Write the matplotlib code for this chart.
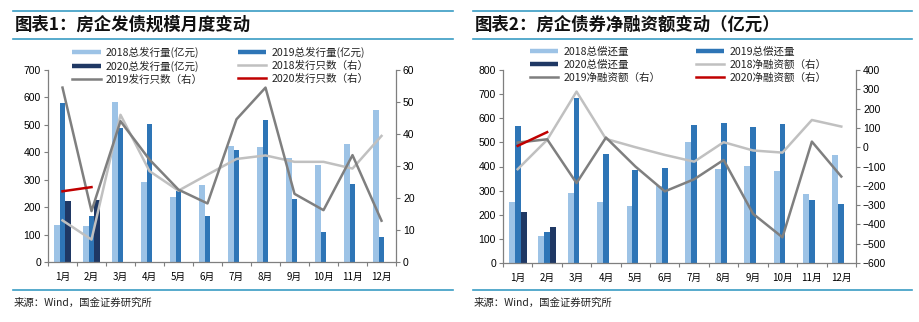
import numpy as np
import matplotlib
matplotlib.use('Agg')
import matplotlib.pyplot as plt
from matplotlib.lines import Line2D

plt.rcParams['font.family'] = ['Noto Sans CJK SC', 'DejaVu Sans']

months = ['1月', '2月', '3月', '4月', '5月', '6月', '7月', '8月', '9月', '10月', '11月', '12月']

# 图表1: 发行量(亿元, 左轴) / 发行只数(右轴)
issue_2018 = [136, 130, 583, 293, 236, 281, 424, 418, 380, 354, 430, 554]
issue_2019 = [578, 166, 488, 503, 258, 169, 409, 518, 229, 108, 286, 90]
issue_2020 = [222, 225]
count_2018 = [13, 7, 46, 28.4, 22.3, 27.3, 32.2, 33.3, 31.3, 31.3, 29.2, 39.4]
count_2019 = [54.5, 15.9, 44, 32, 22.6, 18.3, 44.6, 54.5, 21.3, 16.2, 33.4, 12.9]
count_2020 = [22.1, 23.4]

# 图表2: 总偿还量(左轴) / 净融资额(右轴)
repay_2018 = [252, 113, 291, 252, 237, 320, 500, 390, 404, 383, 288, 447]
repay_2019 = [566, 127, 683, 452, 386, 394, 574, 581, 563, 577, 263, 244]
repay_2020 = [212, 148]
net_2018 = [-114, 38, 288, 43, 0, -40, -75, 26, -17, -28, 141, 107]
net_2019 = [24, 41, -186, 50, -100, -229, -166, -66, -345, -467, 29, -152]
net_2020 = [7, 78]

C18, C19, C20 = '#9dc3e6', '#2e75b6', '#1f3864'
L18, L19, L20 = '#c0c0c0', '#7f7f7f', '#c00000'
RULE = '#3a9cc4'
NUM_FONT = 'Liberation Sans'

W, H = 920, 322
fig = plt.figure(figsize=(W / 100, H / 100), dpi=100)


def fx(px):
    return px / W


def fy(py):
    return 1 - py / H


def panel(x0, x1, y0, y1, bars, lines, ylim_l, ylim_r, step_l, step_r, labels, leg_x, col2_gap):
    ax = fig.add_axes([fx(x0), fy(y1), fx(x1 - x0), fy(y0) - fy(y1)])
    x = np.arange(len(months))
    w = 0.2
    offs = [-w, 0, w]
    for (vals, col), off in zip(bars, offs):
        ax.bar(x[:len(vals)] + off, vals, width=w, color=col, zorder=2)
    ax.set_xlim(-0.5, 11.5)
    ax.set_ylim(*ylim_l)
    ax.set_yticks(np.arange(ylim_l[0], ylim_l[1] + 1, step_l))
    ax2 = ax.twinx()
    for vals, col in lines:
        ax2.plot(x[:len(vals)], vals, color=col, lw=1.8, zorder=3)
    ax2.set_ylim(*ylim_r)
    ax2.set_yticks(np.arange(ylim_r[0], ylim_r[1] + 1, step_r))

    for a in (ax, ax2):
        a.spines['top'].set_visible(False)
        for s in a.spines.values():
            s.set_color('#7f7f7f')
            s.set_linewidth(0.9)
        a.tick_params(axis='y', direction='out', length=3, width=0.8, color='#7f7f7f',
                      labelsize=7.5, pad=2)
        for t in a.get_yticklabels():
            t.set_fontfamily(NUM_FONT)
    ax2.spines['left'].set_visible(False)
    ax.spines['right'].set_visible(False)
    ax2.spines['bottom'].set_visible(False)

    ax.set_xticks(x)
    ax.set_xticklabels(months, fontsize=7)
    ax.set_xticks(np.arange(-0.5, 12, 1), minor=True)
    ax.tick_params(axis='x', which='major', length=0, pad=7)
    ax.tick_params(axis='x', which='minor', length=3, width=0.8, color='#7f7f7f', direction='out')

    # legend: column 1 = first three handles
    bar_h = [Line2D([], [], color=c, lw=3.2, solid_capstyle='butt') for _, c in bars]
    line_h = [Line2D([], [], color=c, lw=1.8) for _, c in lines]
    order_h = [bar_h[0], bar_h[2], line_h[1], bar_h[1], line_h[0], line_h[2]]
    order_l = [labels[0], labels[2], labels[4], labels[1], labels[3], labels[5]]
    leg = ax2.legend(order_h, order_l, loc='upper left', ncol=2, frameon=False,
                     bbox_to_anchor=(fx(leg_x), fy(46.5)), bbox_transform=fig.transFigure,
                     fontsize=7.6, handlelength=2.7, handletextpad=0.5,
                     columnspacing=col2_gap, labelspacing=0.28, borderpad=0,
                     borderaxespad=0)
    for t in leg.get_texts():
        t.set_color('#222222')
    return ax, ax2


panel(48, 396, 70, 262,
      [(issue_2018, C18), (issue_2019, C19), (issue_2020, C20)],
      [(count_2018, L18), (count_2019, L19), (count_2020, L20)],
      (0, 700), (0, 60), 100, 10,
      ['2018总发行量(亿元)', '2019总发行量(亿元)', '2020总发行量(亿元)',
       '2018发行只数（右）', '2019发行只数（右）', '2020发行只数（右）'],
      72, 3.3)

panel(503, 856, 70, 263,
      [(repay_2018, C18), (repay_2019, C19), (repay_2020, C20)],
      [(net_2018, L18), (net_2019, L19), (net_2020, L20)],
      (0, 800), (-600, 400), 100, 100,
      ['2018总偿还量', '2019总偿还量', '2020总偿还量',
       '2018净融资额（右）', '2019净融资额（右）', '2020净融资额（右）'],
      530, 3.3)

# titles, rules and source notes
for x0, x1, title in [(13, 453, '图表1：房企发债规模月度变动'),
                      (473, 912, '图表2：房企债券净融资额变动（亿元）')]:
    for yy in (11, 39):
        fig.add_artist(Line2D([fx(x0), fx(x1)], [fy(yy), fy(yy)], color=RULE, lw=1.2))
    fig.add_artist(Line2D([fx(x0), fx(x1)], [fy(290), fy(290)], color=RULE, lw=1.2))
    fig.text(fx(x0 + 2), fy(25), title, fontsize=12.5, fontweight='bold',
             va='center', ha='left', color='#111111')
    fig.text(fx(x0 + 1), fy(303), '来源：Wind，国金证券研究所', fontsize=7.5,
             va='center', ha='left', color='#222222')

fig.savefig('out.png', dpi=100)
